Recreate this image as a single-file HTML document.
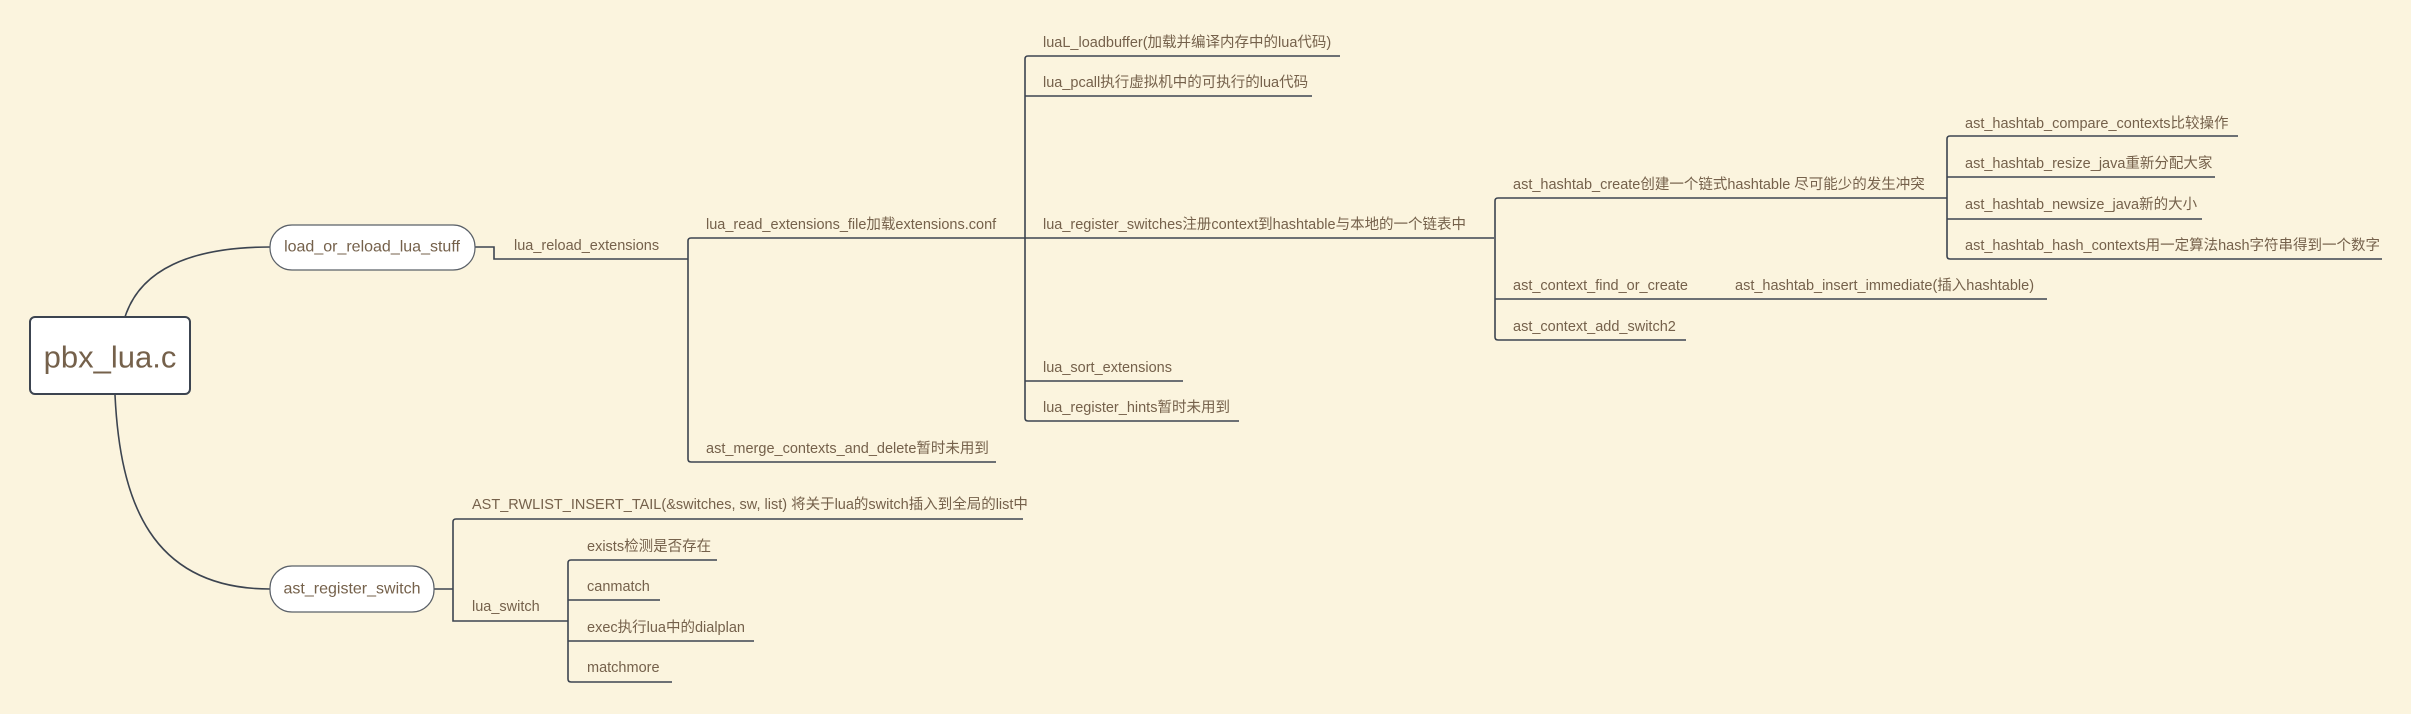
<!DOCTYPE html>
<html><head><meta charset="utf-8"><style>
html,body{margin:0;padding:0;background:#fbf4de;}
svg{display:block}
text{font-family:"Liberation Sans","Noto Sans CJK SC",sans-serif;fill:#75614b;font-size:14.5px;dominant-baseline:central}
</style></head><body>
<svg width="2411" height="714" viewBox="0 0 2411 714" xmlns="http://www.w3.org/2000/svg">
<rect width="2411" height="714" fill="#fbf4de"/>
<g fill="none" stroke="#3c4450" stroke-width="1.6">
<!-- root curves -->
<path d="M125 317 C140 270 190 247 270 247"/>
<path d="M115 395 C120 500 150 589 270 589"/>
<!-- load -> reload -->
<path d="M475 247 H494 V259 H688"/>
<!-- bracket 1 -->
<path d="M688 241 V459 Q688 462 691 462 H996"/>
<path d="M688 241 Q688 238 691 238 H1494"/>
<!-- bracket 2 -->
<path d="M1025 59 Q1025 56 1028 56 H1340"/>
<path d="M1025 59 V418 Q1025 421 1028 421 H1239"/>
<path d="M1025 96 H1312"/>
<path d="M1025 381 H1183"/>
<!-- bracket 3 -->
<path d="M1495 201 Q1495 198 1498 198 H1947"/>
<path d="M1495 201 V337 Q1495 340 1498 340 H1686"/>
<path d="M1495 299 H2047"/>
<!-- bracket 4 -->
<path d="M1947 139 Q1947 136 1950 136 H2238"/>
<path d="M1947 139 V256 Q1947 259 1950 259 H2382"/>
<path d="M1947 177 H2215"/>
<path d="M1947 219 H2202"/>
<!-- bottom -->
<path d="M434 589 H453"/>
<path d="M453 522 Q453 519 456 519 H1023"/>
<path d="M453 522 V621 H568"/>
<path d="M568 563 Q568 560 571 560 H717"/>
<path d="M568 563 V679 Q568 682 571 682 H672"/>
<path d="M568 600 H660"/>
<path d="M568 641 H754"/>
</g>
<!-- nodes -->
<rect x="30" y="317" width="160" height="77" rx="5" fill="#fff" stroke="#3c4450" stroke-width="2"/>
<text x="110" y="357" text-anchor="middle" style="font-size:31px">pbx_lua.c</text>
<rect x="270" y="225" width="205" height="45" rx="22" fill="#fff" stroke="#5a6068" stroke-width="1.2"/>
<text x="372" y="247" text-anchor="middle" style="font-size:16px">load_or_reload_lua_stuff</text>
<rect x="270" y="566" width="164" height="46" rx="22" fill="#fff" stroke="#5a6068" stroke-width="1.2"/>
<text x="352" y="589" text-anchor="middle" style="font-size:16px">ast_register_switch</text>
<!-- labels -->
<text x="514" y="246">lua_reload_extensions</text>
<text x="706" y="225">lua_read_extensions_file加载extensions.conf</text>
<text x="706" y="449">ast_merge_contexts_and_delete暂时未用到</text>
<text x="1043" y="43">luaL_loadbuffer(加载并编译内存中的lua代码)</text>
<text x="1043" y="83">lua_pcall执行虚拟机中的可执行的lua代码</text>
<text x="1043" y="225">lua_register_switches注册context到hashtable与本地的一个链表中</text>
<text x="1043" y="368">lua_sort_extensions</text>
<text x="1043" y="408">lua_register_hints暂时未用到</text>
<text x="1513" y="185">ast_hashtab_create创建一个链式hashtable 尽可能少的发生冲突</text>
<text x="1513" y="286">ast_context_find_or_create</text>
<text x="1735" y="286">ast_hashtab_insert_immediate(插入hashtable)</text>
<text x="1513" y="327">ast_context_add_switch2</text>
<text x="1965" y="124">ast_hashtab_compare_contexts比较操作</text>
<text x="1965" y="164">ast_hashtab_resize_java重新分配大家</text>
<text x="1965" y="205">ast_hashtab_newsize_java新的大小</text>
<text x="1965" y="246">ast_hashtab_hash_contexts用一定算法hash字符串得到一个数字</text>
<text x="472" y="505">AST_RWLIST_INSERT_TAIL(&amp;switches, sw, list) 将关于lua的switch插入到全局的list中</text>
<text x="472" y="607">lua_switch</text>
<text x="587" y="547">exists检测是否存在</text>
<text x="587" y="587">canmatch</text>
<text x="587" y="628">exec执行lua中的dialplan</text>
<text x="587" y="668">matchmore</text>
</svg>
</body></html>
